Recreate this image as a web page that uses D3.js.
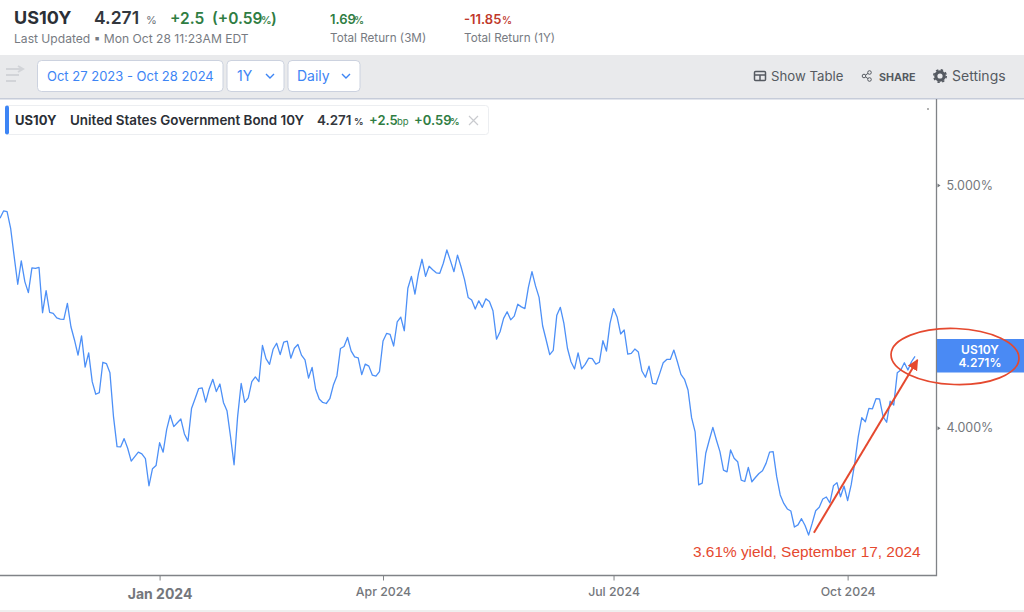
<!DOCTYPE html>
<html>
<head>
<meta charset="utf-8">
<script src="https://cdn.jsdelivr.net/npm/d3@7"></script>
<style>
  html, body { margin: 0; padding: 0; background: #fff; overflow: hidden; }
  text { font-family: Inter, "Noto Sans", sans-serif; }
</style>
</head>
<body>
<div id="chart"></div>
<script>
// daily US10Y yield (%), one value per trading day, Oct 27 2023 - Oct 28 2024
var yields = [
  4.850, 4.882, 4.879, 4.805, 4.681, 4.564, 4.663, 4.575, 4.529, 4.633,
  4.631, 4.635, 4.446, 4.537, 4.447, 4.443, 4.425, 4.420, 4.419, 4.484,
  4.389, 4.336, 4.276, 4.352, 4.229, 4.285, 4.173, 4.125, 4.131, 4.248,
  4.243, 4.207, 4.041, 3.931, 3.930, 3.960, 3.925, 3.879, 3.895, 3.911,
  3.905, 3.888, 3.792, 3.852, 3.863, 3.945, 3.911, 3.994, 4.046, 4.004,
  4.018, 4.032, 3.977, 3.951, 4.071, 4.108, 4.146, 4.149, 4.095, 4.146,
  4.182, 4.135, 4.164, 4.094, 4.063, 3.967, 3.866, 4.041, 4.166, 4.094,
  4.111, 4.173, 4.191, 4.173, 4.314, 4.262, 4.240, 4.299, 4.323, 4.278,
  4.327, 4.331, 4.264, 4.303, 4.318, 4.276, 4.257, 4.187, 4.228, 4.144,
  4.107, 4.094, 4.090, 4.108, 4.160, 4.195, 4.302, 4.310, 4.346, 4.293,
  4.269, 4.265, 4.200, 4.241, 4.233, 4.198, 4.194, 4.212, 4.332, 4.362,
  4.358, 4.312, 4.409, 4.428, 4.373, 4.547, 4.597, 4.523, 4.610, 4.670,
  4.597, 4.640, 4.625, 4.612, 4.610, 4.653, 4.710, 4.664, 4.617, 4.688,
  4.638, 4.582, 4.509, 4.498, 4.461, 4.495, 4.468, 4.503, 4.492, 4.454,
  4.339, 4.369, 4.423, 4.450, 4.417, 4.432, 4.481, 4.470, 4.463, 4.552,
  4.617, 4.557, 4.509, 4.393, 4.336, 4.278, 4.295, 4.436, 4.468, 4.403,
  4.303, 4.250, 4.222, 4.285, 4.222, 4.240, 4.264, 4.262, 4.241, 4.248,
  4.333, 4.292, 4.403, 4.463, 4.429, 4.360, 4.376, 4.280, 4.283, 4.300,
  4.288, 4.214, 4.190, 4.233, 4.166, 4.164, 4.204, 4.246, 4.259, 4.259,
  4.296, 4.250, 4.201, 4.182, 4.141, 4.037, 3.985, 3.795, 3.801, 3.907,
  3.955, 4.001, 3.955, 3.913, 3.847, 3.841, 3.919, 3.889, 3.877, 3.812,
  3.807, 3.857, 3.806, 3.821, 3.835, 3.845, 3.871, 3.911, 3.913, 3.824,
  3.760, 3.731, 3.712, 3.705, 3.651, 3.658, 3.679, 3.656, 3.624, 3.663,
  3.706, 3.718, 3.746, 3.753, 3.733, 3.792, 3.803, 3.754, 3.791, 3.741,
  3.795, 3.871, 3.967, 4.037, 4.022, 4.072, 4.070, 4.108, 4.107, 4.041,
  4.020, 4.099, 4.084, 4.207, 4.218, 4.246, 4.218, 4.250, 4.271
];

var xTickDays = [45, 108, 173, 239];
var xTickLabels = ["Jan 2024", "Apr 2024", "Jul 2024", "Oct 2024"];
var yTickValues = [4, 5];

// arrow of the annotation, [trading day, yield]
var arrowStart = [229.5, 3.632];
var arrowEnd = [258.7, 4.257];

var grey = "#6b6f76", green = "#2f7d43", red = "#c0392b", blue = "#3d85f5", orange = "#e5492f";

var width = 1024, height = 612;
var svg = d3.select("#chart").append("svg")
  .attr("width", width)
  .attr("height", height)
  .style("display", "block");

var x = d3.scaleLinear().domain([0, yields.length - 1]).range([0, 915]);
var y = d3.scaleLog().domain([4, 5]).range([427.7, 185]);

// little helper, most of the header is runs of text
function label(px, py, str, size, weight, fill, anchor) {
  return svg.append("text")
    .attr("x", px).attr("y", py)
    .attr("font-size", size)
    .attr("font-weight", weight || 400)
    .attr("fill", fill || "#2b2f36")
    .attr("text-anchor", anchor || "start")
    .text(str);
}

// header
label(14, 24, "US10Y", 18, 700, "#2b2f36");
label(94, 24, "4.271", 17.5, 600, "#33373d");
label(146, 24, "%", 11, 400, grey);
label(170, 24, "+2.5", 15.5, 600, green);
label(212, 24, "(+0.59", 15.5, 600, green);
label(261, 24, "%", 10.5, 600, green);
label(271, 24, ")", 15.5, 600, green);
label(14, 43, "Last Updated \u25AA Mon Oct 28 11:23AM EDT", 12.1, 400, "#777b82");
label(330, 24, "1.69", 13, 600, green);
label(354, 24, "%", 10, 600, green);
label(330, 42, "Total Return (3M)", 11.7, 400, "#777b82");
label(464, 24, "-11.85", 13, 600, red);
label(502, 24, "%", 10, 600, red);
label(464, 42, "Total Return (1Y)", 11.7, 400, "#777b82");

// toolbar
svg.append("rect").attr("x", 0).attr("y", 55).attr("width", width).attr("height", 43).attr("fill", "#e9eaec");
svg.append("rect").attr("x", 0).attr("y", 98).attr("width", width).attr("height", 1.5).attr("fill", "#c6ccd9");

var menuIcon = svg.append("g").attr("stroke", "#d2d4d8").attr("stroke-width", 2).attr("fill", "none");
menuIcon.append("path").attr("d", "M6 69H22M18 66L23 69L18 72M6 75H19M6 81H16");

[[37.5, 185.5], [227, 57], [288, 72]].forEach(function(b) {
  svg.append("rect")
    .attr("x", b[0]).attr("y", 60.5)
    .attr("width", b[1]).attr("height", 31).attr("rx", 4)
    .attr("fill", "#fff").attr("stroke", "#ccd2df");
});
label(47, 81, "Oct 27 2023 - Oct 28 2024", 13, 400, blue);
label(237, 81, "1Y", 14, 400, blue);
label(297, 81, "Daily", 14, 400, blue);
[270, 346].forEach(function(cx) {
  svg.append("path")
    .attr("d", "M" + (cx - 4) + " 74L" + cx + " 78L" + (cx + 4) + " 74")
    .attr("fill", "none").attr("stroke", blue).attr("stroke-width", 1.4);
});

// right side of the toolbar
var tableIcon = svg.append("g").attr("fill", "none").attr("stroke", "#555a61").attr("stroke-width", 1.5);
tableIcon.append("rect").attr("x", 754.5).attr("y", 71.5).attr("width", 11).attr("height", 9).attr("rx", 1);
tableIcon.append("path").attr("d", "M754.5 75H765.5M760 75V80.5");
label(771, 81, "Show Table", 13.2, 400, "#555a61");
var shareIcon = svg.append("g").attr("fill", "none").attr("stroke", "#555a61").attr("stroke-width", 1);
shareIcon.append("circle").attr("cx", 864).attr("cy", 76).attr("r", 1.8);
shareIcon.append("circle").attr("cx", 869.5).attr("cy", 72.5).attr("r", 1.8);
shareIcon.append("circle").attr("cx", 869.5).attr("cy", 79.5).attr("r", 1.8);
shareIcon.append("path").attr("d", "M865.6 75L868 73.4M865.6 77L868 78.6");
label(879, 80.5, "SHARE", 10.7, 700, "#555a61");
svg.append("circle").attr("cx", 940).attr("cy", 76).attr("r", 4.2)
  .attr("fill", "none").attr("stroke", "#555a61").attr("stroke-width", 3.2);
svg.append("circle").attr("cx", 940).attr("cy", 76).attr("r", 6.2)
  .attr("fill", "none").attr("stroke", "#555a61").attr("stroke-width", 1.6).attr("stroke-dasharray", "2.4 2.47");
label(952, 81, "Settings", 14, 400, "#555a61");

// series legend box
svg.append("rect").attr("x", 5.5).attr("y", 105.5).attr("width", 483).attr("height", 29).attr("rx", 3)
  .attr("fill", "#fff").attr("stroke", "#eceef1");
svg.append("rect").attr("x", 5).attr("y", 105.5).attr("width", 4).attr("height", 29).attr("rx", 2).attr("fill", blue);
label(15, 125, "US10Y", 13, 700, "#2b2f36");
label(70, 125, "United States Government Bond 10Y", 13.4, 600, "#2b2f36");
label(317, 125, "4.271", 13.4, 600, "#33373d");
label(354, 125, "%", 9.5, 600, "#33373d");
label(369, 125, "+2.5", 13, 600, green);
label(397, 125, "bp", 9.5, 400, green);
label(414, 125, "+0.59", 13, 600, green);
label(450, 125, "%", 9.5, 600, green);
svg.append("path").attr("d", "M469 116L478 125M478 116L469 125")
  .attr("stroke", "#c9cbcf").attr("stroke-width", 1.2).attr("fill", "none");
svg.append("rect").attr("x", 927).attr("y", 108.5).attr("width", 2).attr("height", 1).attr("fill", "#666");

// the series
var line = d3.line()
  .x(function(d, i) { return x(i); })
  .y(function(d) { return y(d); });

svg.append("path")
  .datum(yields)
  .attr("fill", "none")
  .attr("stroke", "#4d90f7")
  .attr("stroke-width", 1.3)
  .attr("stroke-linejoin", "round")
  .attr("d", line);

// x axis
var xAxis = d3.axisBottom(x)
  .tickValues(xTickDays)
  .tickSize(5)
  .tickFormat(function(d, i) { return xTickLabels[i]; });

var gx = svg.append("g").attr("transform", "translate(0,575.5)").call(xAxis);
gx.select(".domain").remove();
gx.selectAll("line").attr("stroke", "#808387");
gx.selectAll("text")
  .attr("fill", "#74777c")
  .attr("font-size", 12.3)
  .attr("font-weight", 500)
  .attr("font-family", "Inter")
  .attr("dy", 0)
  .attr("y", 20.5);
gx.selectAll("text").filter(function(d, i) { return i == 0; })
  .attr("font-size", 14)
  .attr("font-weight", 700)
  .attr("y", 23.5);

// y axis, log scale
var yAxis = d3.axisRight(y)
  .tickValues(yTickValues)
  .tickSize(0)
  .tickPadding(10)
  .tickFormat(function(d) { return d3.format(".3f")(d) + "%"; });

var gy = svg.append("g").attr("transform", "translate(936.5,0)").call(yAxis);
gy.select(".domain").remove();
gy.selectAll("text")
  .attr("fill", "#74777c")
  .attr("font-size", 12.5)
  .attr("font-family", "Inter");
gy.selectAll(".tick").append("path")
  .attr("d", "M1 -2L4 0L1 2Z")
  .attr("fill", "#74777c");

// plot frame
svg.append("path")
  .attr("d", "M0 575.5H936.5V99")
  .attr("fill", "none")
  .attr("stroke", "#808387")
  .attr("stroke-width", 1.3);

// last value flag
svg.append("rect").attr("x", 937).attr("y", 339).attr("width", 87).attr("height", 33.5).attr("fill", "#4a8af4");
label(980, 353.5, "US10Y", 12, 600, "#fff", "middle");
label(980, 366.5, "4.271%", 12, 600, "#fff", "middle");

// annotation drawn on top of the picture
svg.append("ellipse")
  .attr("cx", 955).attr("cy", 356.5).attr("rx", 64).attr("ry", 28)
  .attr("transform", "rotate(2 955 356.5)")
  .attr("fill", "none").attr("stroke", orange).attr("stroke-width", 1.7);

svg.append("defs").append("marker")
  .attr("id", "head")
  .attr("viewBox", "0 0 10 10")
  .attr("refX", 9).attr("refY", 5)
  .attr("markerWidth", 5.5).attr("markerHeight", 5.5)
  .attr("orient", "auto")
  .append("path").attr("d", "M0 0L10 5L0 10Z").attr("fill", orange);

svg.append("line")
  .attr("x1", x(arrowStart[0])).attr("y1", y(arrowStart[1]))
  .attr("x2", x(arrowEnd[0])).attr("y2", y(arrowEnd[1]))
  .attr("stroke", orange).attr("stroke-width", 2)
  .attr("marker-end", "url(#head)");

label(693, 557, "3.61% yield, September 17, 2024", 15.4, 400, orange)
  .attr("style", "font-family:'Liberation Sans'");

// bottom strip of the page
svg.append("rect").attr("x", 0).attr("y", 610).attr("width", width).attr("height", 2).attr("fill", "#efefef");
</script>
</body>
</html>
